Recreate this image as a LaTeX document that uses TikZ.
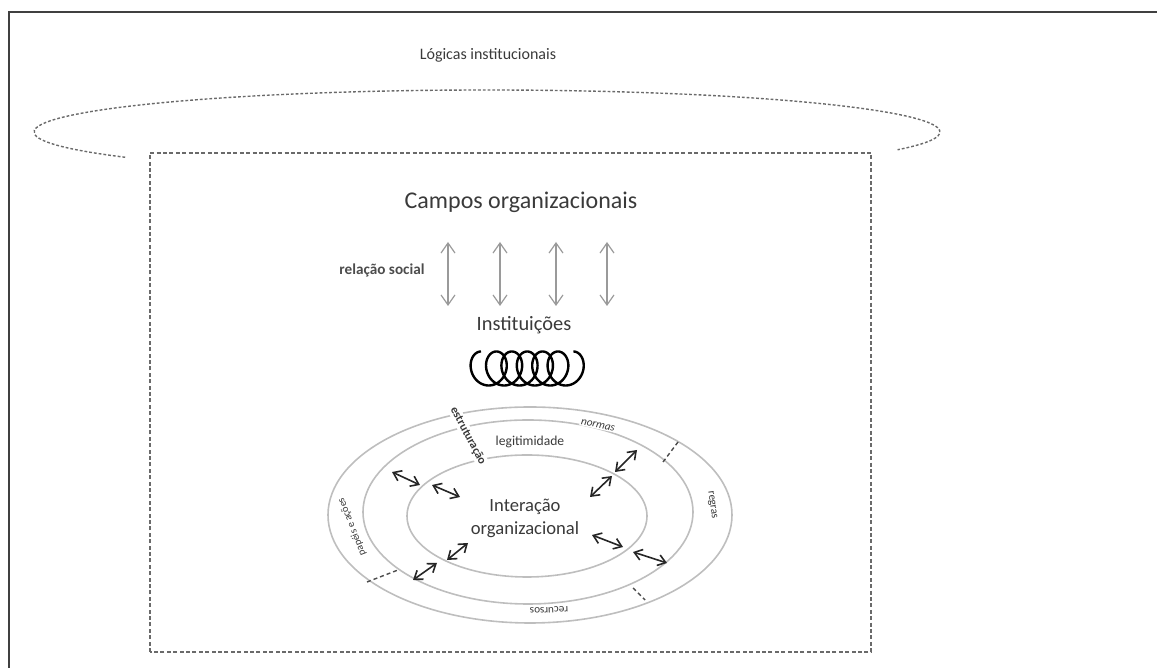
\documentclass[tikz,border=0pt]{standalone}
\usepackage{fontspec}
\setmainfont{Carlito}
\usetikzlibrary{arrows.meta}
\definecolor{ringc}{HTML}{BEBEBE}
\definecolor{dashc}{HTML}{6A6A6A}
\definecolor{txtc}{HTML}{3A3A3A}
\definecolor{varrc}{HTML}{9A9A9A}
\tikzset{
  framec/.style={draw=black!75, line width=1.3pt},
  dotline/.style={draw=dashc, line width=0.7pt, dash pattern=on 1.4pt off 1pt},
  ringline/.style={draw=ringc, line width=0.8pt},
  varrow/.style={draw=varrc, line width=0.6pt, {Straight Barb[length=5pt,width=7pt]}-{Straight Barb[length=5pt,width=7pt]}},
  barrow/.style={draw=black!85, line width=0.8pt, {Straight Barb[length=3.8pt,width=5.5pt]}-{Straight Barb[length=3.8pt,width=5.5pt]}},
  seplab/.style={draw=black!70, line width=0.7pt, dash pattern=on 2pt off 1.5pt},
  ringlab/.style={fill=white, inner sep=0.6pt, text=txtc, font=\fontsize{5.6pt}{6pt}\selectfont},
}
\begin{document}
\begin{tikzpicture}[x=0.5pt,y=0.5pt]
\useasboundingbox (0,0) rectangle (1157,668);
% frame
\coordinate (ftl) at (9,656);
\coordinate (ftr) at (1157,656);
\coordinate (fbl) at (9,0);
\draw[framec] (ftr) -- (ftl) -- (fbl);
% title
\node[text=txtc, font=\fontsize{8pt}{9pt}\selectfont] (logicas) at (488,613) {Lógicas institucionais};
% dashed ellipse arc
\coordinate (ellc) at (487,536);
\draw[dotline] ([shift={(217:453 and 42)}]ellc) arc[start angle=217, end angle=-25, x radius=453, y radius=42];
% dashed rectangle
\coordinate (rbl) at (150,16);
\coordinate (rtr) at (871,515);
\draw[dotline, dash pattern=on 2pt off 1.2pt] (rbl) rectangle (rtr);
% campos
\node[text=txtc, font=\fontsize{12pt}{14pt}\selectfont] (campos) at (521,466) {Campos organizacionais};
\node[text=black!70, font=\bfseries\fontsize{7.6pt}{9pt}\selectfont] (relacao) at (382,398) {relação social};
% vertical arrows
\foreach \i/\x in {1/448,2/500,3/556,4/607}{
  \coordinate (vt\i) at (\x,426);
  \coordinate (vb\i) at (\x,362);
  \draw[varrow] (vt\i) -- (vb\i);
}
\node[text=txtc, font=\fontsize{10.2pt}{12pt}\selectfont] (inst) at (524,343) {Instituições};
% coil
\draw[black, line width=1.2pt, domain=0:37.7, samples=700, variable=\t, smooth]
  plot ({481 + 2.45*\t - 14*sin(\t r)}, {299.5 + 17*cos(\t r)});
% rings
\coordinate (oc) at (530,153);
\coordinate (mc) at (528,156);
\coordinate (ic) at (527,152);
\draw[ringline] (oc) ellipse [x radius=202, y radius=108];
\draw[ringline] (mc) ellipse [x radius=165, y radius=92];
\draw[ringline] (ic) ellipse [x radius=120, y radius=61];
% separators
\coordinate (s1a) at (678,226); \coordinate (s1b) at (663,206);
\coordinate (s2a) at (367,86);  \coordinate (s2b) at (398,98);
\coordinate (s3a) at (633,80);  \coordinate (s3b) at (645,68);
\draw[seplab] (s1a) -- (s1b);
\draw[seplab] (s2a) -- (s2b);
\draw[seplab] (s3a) -- (s3b);
% ring labels
\node[ringlab, font=\bfseries\fontsize{6pt}{6pt}\selectfont, rotate=-62] (estr) at (468,232) {estruturação};
\node[ringlab, font=\itshape\fontsize{5.6pt}{6pt}\selectfont, rotate=-12] (normas) at (598,243) {normas};
\node[ringlab, rotate=-82] (regras) at (712,163) {regras};
\node[ringlab, rotate=182] (recursos) at (549,58) {recursos};
\node[ringlab, font=\fontsize{5.2pt}{6pt}\selectfont, rotate=111] (papeis) at (352,141) {papéis e ações};
\node[text=txtc, font=\fontsize{6.8pt}{8pt}\selectfont] (legit) at (530,226) {legitimidade};
\node[text=txtc, align=center, font=\fontsize{9.3pt}{11.5pt}\selectfont] (inter) at (525,150) {Interação\\organizacional};
% black double arrows
\coordinate (a1s) at (392,196); \coordinate (a1e) at (420,183);
\coordinate (a2s) at (432,183); \coordinate (a2e) at (460,171);
\coordinate (a3s) at (615,196); \coordinate (a3e) at (637,218);
\coordinate (a4s) at (590,171); \coordinate (a4e) at (612,192);
\coordinate (a5s) at (447,108); \coordinate (a5e) at (468,125);
\coordinate (a6s) at (413,88);  \coordinate (a6e) at (437,105);
\coordinate (a7s) at (592,133); \coordinate (a7e) at (623,121);
\coordinate (a8s) at (633,116); \coordinate (a8e) at (667,105);
\foreach \i in {1,...,8}{ \draw[barrow] (a\i s) -- (a\i e); }
\end{tikzpicture}
\end{document}
